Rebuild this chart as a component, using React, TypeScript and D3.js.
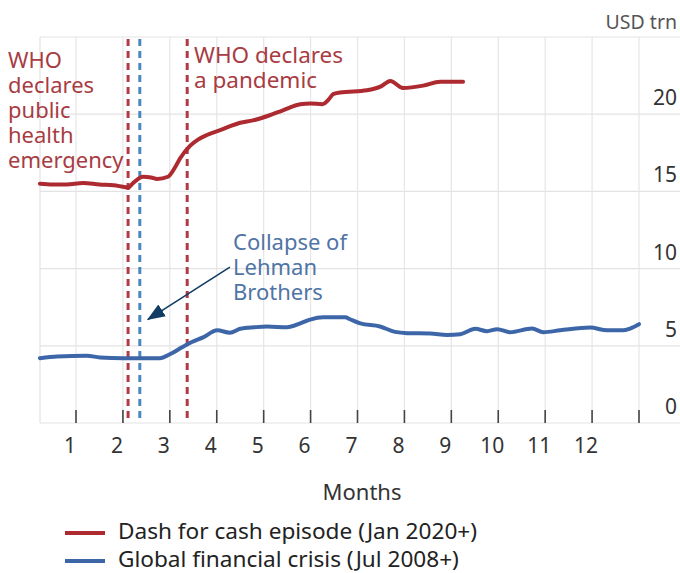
import React from 'react';
import * as d3 from 'd3';

// ---- data ----
const monthTicks = [1, 2, 3, 4, 5, 6, 7, 8, 9, 10, 11, 12, 13];
const monthLabels = ['1', '2', '3', '4', '5', '6', '7', '8', '9', '10', '11', '12'];
const valueTicks = [0, 5, 10, 15, 20];
const gridValues = [0, 5, 10, 15, 20, 25];

const dashMonths = [0.23, 0.5, 0.8, 1.15, 1.5, 1.8, 2.0, 2.11, 2.22, 2.43, 2.6, 2.73, 2.96, 3.1, 3.22, 3.43, 3.6, 3.79, 4.1, 4.5, 4.77, 5.1, 5.41, 5.78, 6.0, 6.25, 6.4, 6.48, 6.63, 7.2, 7.5, 7.7, 7.97, 8.4, 8.76, 9.0, 9.25];
const dashValues = [15.5, 15.45, 15.45, 15.55, 15.45, 15.4, 15.3, 15.25, 15.55, 15.95, 15.9, 15.8, 15.95, 16.5, 17.15, 17.95, 18.35, 18.65, 19.0, 19.45, 19.6, 19.9, 20.25, 20.65, 20.7, 20.65, 21.0, 21.3, 21.4, 21.55, 21.8, 22.15, 21.7, 21.85, 22.1, 22.1, 22.1];

const gfcMonths = [0.23, 0.6, 1.23, 1.51, 2.0, 2.4, 2.79, 3.0, 3.26, 3.47, 3.71, 4.01, 4.28, 4.5, 4.8, 5.07, 5.5, 5.78, 5.99, 6.27, 6.74, 6.84, 7.06, 7.48, 7.8, 8.06, 8.55, 8.91, 9.19, 9.51, 9.76, 9.98, 10.25, 10.72, 10.96, 11.32, 11.96, 12.32, 12.66, 12.81, 13.0];
const gfcValues = [4.2, 4.3, 4.35, 4.25, 4.2, 4.2, 4.2, 4.45, 4.9, 5.25, 5.55, 6.0, 5.85, 6.1, 6.2, 6.25, 6.2, 6.45, 6.7, 6.85, 6.85, 6.72, 6.45, 6.25, 5.9, 5.82, 5.8, 5.7, 5.75, 6.1, 5.95, 6.08, 5.88, 6.12, 5.88, 6.0, 6.18, 6.0, 6.0, 6.12, 6.4];

const eventMonths = [2.11, 2.36, 3.37];
const eventSeries = ['dash', 'gfc', 'dash'];

const whoEmergencyLines = ['WHO', 'declares', 'public', 'health', 'emergency'];
const whoPandemicLines = ['WHO declares', 'a pandemic'];
const lehmanLines = ['Collapse of', 'Lehman', 'Brothers'];
const arrowFrom = [4.28, 10.1];
const arrowTo = [2.53, 6.7];

const legendLabels = ['Dash for cash episode (Jan 2020+)', 'Global financial crisis (Jul 2008+)'];
const legendSeries = ['dash', 'gfc'];

// ---- styles ----
const W = 680;
const H = 573;
const FONT = '"Noto Sans", "Open Sans", sans-serif';
const colors: Record<string, string> = { dash: '#ac2a30', gfc: '#3d66a8' };
const dashLineColors: Record<string, string> = { dash: '#b23a46', gfc: '#4a86c0' };
const redText = '#a83c43';
const blueText = '#4f74a6';

export default function App() {
  const plotLeft = 40;
  const plotRight = 680;
  const x = d3.scaleLinear().domain([1, 13]).range([76, 639]);
  const y = d3.scaleLinear().domain([0, 25]).range([423, 37]);
  const yTop = y(25);
  const yBot = y(0);

  const mkPath = (ms: number[], vs: number[]) =>
    d3
      .line<number>()
      .x((m) => x(m))
      .y((_, i) => y(vs[i]))
      .curve(d3.curveMonotoneX)(ms) || '';

  return (
    <svg
      width={W}
      height={H}
      style={{ position: 'absolute', left: 0, top: 0, background: '#fff' }}
      fontFamily={FONT}
    >
      <defs>
        <marker
          id="arrowhead"
          markerUnits="userSpaceOnUse"
          markerWidth={18}
          markerHeight={14}
          refX={17}
          refY={7}
          orient="auto"
        >
          <path d="M0,0 L18,7 L0,14 Z" fill="#123c63" />
        </marker>
      </defs>

      {/* horizontal gridlines */}
      {gridValues.map((v) => (
        <line key={'h' + v} x1={plotLeft} x2={plotRight} y1={y(v)} y2={y(v)} stroke="#e3e3e3" strokeWidth={1.2} />
      ))}
      {/* left frame */}
      <line x1={plotLeft} x2={plotLeft} y1={yTop} y2={yBot} stroke="#e3e3e3" strokeWidth={1.2} />
      {/* vertical gridlines */}
      {monthTicks.map((m) => (
        <line key={'v' + m} x1={x(m)} x2={x(m)} y1={yTop} y2={yBot} stroke="#e6e6e6" strokeWidth={1.2} />
      ))}
      {/* tick marks */}
      {monthTicks.map((m) => (
        <line key={'t' + m} x1={x(m)} x2={x(m)} y1={yBot - 13} y2={yBot} stroke="#444" strokeWidth={1.6} />
      ))}

      {/* event dashed lines */}
      {eventMonths.map((m, i) => (
        <line
          key={'e' + i}
          x1={x(m)}
          x2={x(m)}
          y1={yTop + 2}
          y2={yBot}
          stroke={dashLineColors[eventSeries[i]]}
          strokeWidth={3}
          strokeDasharray="7,5"
        />
      ))}

      {/* series */}
      <path d={mkPath(gfcMonths, gfcValues)} fill="none" stroke={colors.gfc} strokeWidth={4} strokeLinejoin="round" strokeLinecap="round" />
      <path d={mkPath(dashMonths, dashValues)} fill="none" stroke={colors.dash} strokeWidth={4} strokeLinejoin="round" strokeLinecap="round" />

      {/* y labels */}
      {valueTicks.map((v) => (
        <text key={'yl' + v} x={677} y={y(v) - 9} textAnchor="end" fontSize={21} fill="#333">
          {v}
        </text>
      ))}
      <text x={677} y={29} textAnchor="end" fontSize={19.5} fill="#555">
        USD trn
      </text>

      {/* x labels */}
      {monthLabels.map((lab, i) => (
        <text key={'xl' + i} x={x(i + 1) - 6} y={453} textAnchor="middle" fontSize={21} fill="#333">
          {lab}
        </text>
      ))}
      <text x={362} y={500} textAnchor="middle" fontSize={22} fill="#333">
        Months
      </text>

      {/* annotations */}
      {whoEmergencyLines.map((t, i) => (
        <text key={'we' + i} x={8} y={68 + i * 25} fontSize={22} fill={redText}>
          {t}
        </text>
      ))}
      {whoPandemicLines.map((t, i) => (
        <text key={'wp' + i} x={194} y={63 + i * 25} fontSize={22.5} fill={redText}>
          {t}
        </text>
      ))}
      {lehmanLines.map((t, i) => (
        <text key={'lb' + i} x={233} y={250 + i * 25} fontSize={22} fill={blueText}>
          {t}
        </text>
      ))}
      <line
        x1={x(arrowFrom[0])}
        y1={y(arrowFrom[1])}
        x2={x(arrowTo[0])}
        y2={y(arrowTo[1])}
        stroke="#123c63"
        strokeWidth={1.6}
        markerEnd="url(#arrowhead)"
      />

      {/* legend */}
      {legendLabels.map((lab, i) => (
        <g key={'lg' + i} transform={`translate(0, ${533 + i * 28})`}>
          <line x1={65} x2={105} y1={0} y2={0} stroke={colors[legendSeries[i]]} strokeWidth={4} />
          <text x={118} y={6} fontSize={22.6} fill="#222">
            {lab}
          </text>
        </g>
      ))}
    </svg>
  );
}
